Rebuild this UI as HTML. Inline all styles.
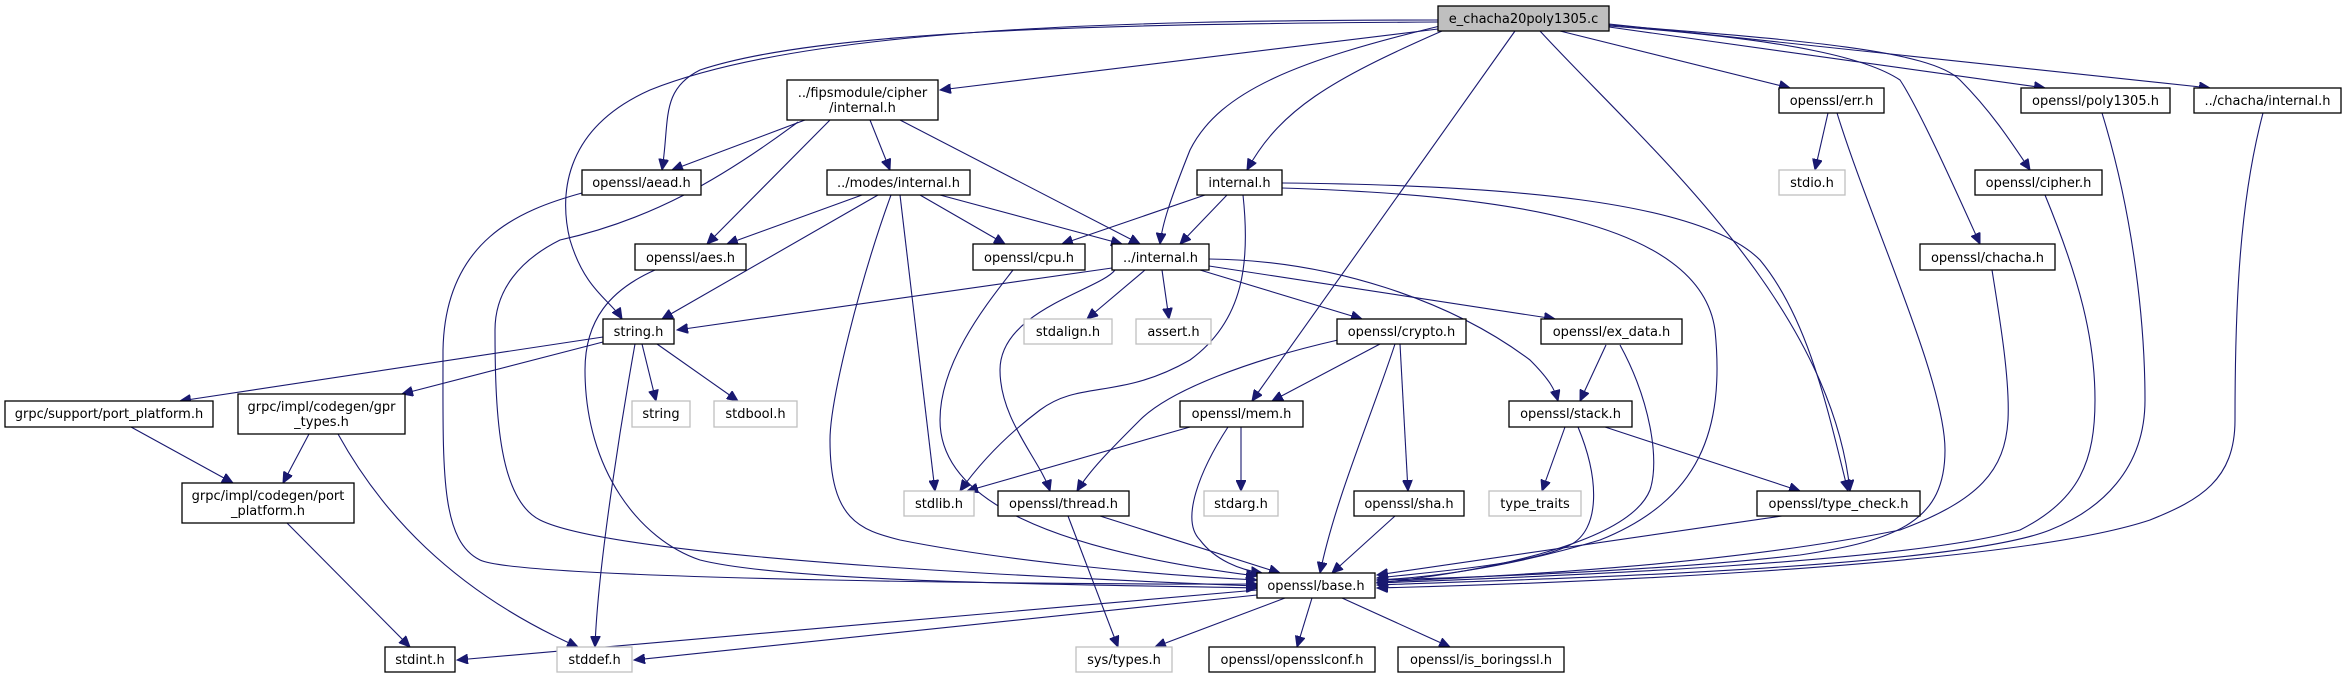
<!DOCTYPE html>
<html><head><meta charset="utf-8"><style>
html,body{margin:0;padding:0;background:#fff;}
svg{display:block;}
text{font-family:"DejaVu Sans","Liberation Sans",sans-serif;font-size:13px;fill:#000;}
.n{fill:#fff;stroke:#000;stroke-width:1.3;}
.g{fill:#fff;stroke:#bfbfbf;stroke-width:1.3;}
.e{fill:none;stroke:#191970;stroke-width:1.1;}
</style></head><body>
<svg width="2347" height="679" viewBox="0 0 2347 679" xmlns="http://www.w3.org/2000/svg">
<defs><marker id="a" markerUnits="userSpaceOnUse" markerWidth="12" markerHeight="10" refX="11" refY="5" orient="auto"><path d="M0,0 L11,5 L0,10 z" fill="#191970" stroke="#191970"/></marker></defs>
<g class="e" marker-end="url(#a)">
<path d="M1438,22 C1100,24 820,30 700,70 C660,90 670,120 662,170"/>
<path d="M1438,20 C1100,20 800,30 650,90 C560,130 560,200 570,240 C585,290 610,300 622,319"/>
<path d="M1438,29 L940,90"/>
<path d="M1440,26 C1300,60 1220,90 1190,150 C1170,200 1162,225 1160,244"/>
<path d="M1442,31 C1330,80 1280,110 1247,170"/>
<path d="M1515,31 L1252,401"/>
<path d="M1540,31 C1640,140 1830,300 1850,491"/>
<path d="M1560,31 L1790,88"/>
<path d="M1609,27 L2045,88"/>
<path d="M1609,24 L2210,88"/>
<path d="M1609,25 C1800,40 1930,50 1960,80 C1990,110 2010,140 2030,170"/>
<path d="M1609,26 C1800,40 1870,60 1900,80 C1920,110 1960,200 1980,244"/>
<path d="M805,120 L672,170"/>
<path d="M830,120 L707,244"/>
<path d="M798,122 C720,180 650,220 560,240 C520,260 495,290 495,330 C495,420 500,500 540,520 C620,560 1100,580 1257,586"/>
<path d="M870,120 L890,170"/>
<path d="M900,120 L1140,244"/>
<path d="M582,193 C520,210 445,240 443,350 C443,470 440,540 480,560 C520,580 1100,585 1257,584"/>
<path d="M655,270 C610,290 585,320 585,370 C585,470 640,540 700,560 C800,585 1150,585 1257,588"/>
<path d="M862,195 L727,244"/>
<path d="M878,195 L662,319"/>
<path d="M900,195 L935,491"/>
<path d="M891,195 C860,280 830,400 830,440 C830,520 860,530 900,540 C1000,560 1150,575 1257,580"/>
<path d="M920,195 L1005,244"/>
<path d="M940,195 L1122,244"/>
<path d="M1205,195 L1062,244"/>
<path d="M1227,195 L1180,244"/>
<path d="M1243,195 C1250,260 1245,320 1190,360 C1120,400 1080,380 1040,410 C1000,440 975,470 960,491"/>
<path d="M1282,188 C1500,195 1700,220 1715,330 C1725,430 1700,500 1600,540 C1500,570 1420,578 1377,580"/>
<path d="M1282,183 C1500,185 1700,200 1760,260 C1810,320 1830,420 1848,491"/>
<path d="M1013,270 C990,300 940,360 940,420 C940,500 1050,550 1257,576"/>
<path d="M1112,268 L677,330"/>
<path d="M1115,270 C1100,290 1000,310 1000,370 C1000,420 1040,460 1050,491"/>
<path d="M1145,270 L1087,319"/>
<path d="M1162,270 L1169,319"/>
<path d="M1200,270 L1362,319"/>
<path d="M1209,266 L1555,319"/>
<path d="M1209,259 C1330,260 1450,300 1530,360 C1550,380 1555,390 1558,401"/>
<path d="M603,337 L180,401"/>
<path d="M603,342 L402,394"/>
<path d="M635,344 C625,400 598,560 595,647"/>
<path d="M642,344 L656,401"/>
<path d="M657,344 L738,401"/>
<path d="M131,427 L233,483"/>
<path d="M309,434 L283,483"/>
<path d="M338,434 C380,510 450,590 578,647"/>
<path d="M287,523 L410,647"/>
<path d="M1380,344 L1272,401"/>
<path d="M1338,340 C1250,360 1170,390 1140,420 C1110,450 1090,470 1077,491"/>
<path d="M1395,344 C1370,420 1335,500 1320,573"/>
<path d="M1400,344 L1408,491"/>
<path d="M1190,427 L967,491"/>
<path d="M1241,427 L1241,491"/>
<path d="M1228,427 C1200,470 1180,520 1200,540 C1215,560 1240,570 1262,573"/>
<path d="M1068,516 L1118,647"/>
<path d="M1100,516 L1280,573"/>
<path d="M1395,516 L1332,573"/>
<path d="M1606,345 L1580,401"/>
<path d="M1620,345 C1650,400 1660,460 1650,490 C1630,540 1500,570 1377,583"/>
<path d="M1565,427 L1542,491"/>
<path d="M1578,427 C1600,480 1600,530 1570,545 C1530,565 1430,572 1377,578"/>
<path d="M1605,427 L1800,491"/>
<path d="M1782,516 L1377,575"/>
<path d="M1828,113 L1815,170"/>
<path d="M1837,113 C1870,220 1945,380 1945,450 C1945,520 1900,540 1800,555 C1650,572 1450,578 1377,580"/>
<path d="M2102,113 C2135,220 2145,330 2145,400 C2145,470 2100,510 2050,530 C1950,570 1500,580 1377,585"/>
<path d="M2263,113 C2240,200 2235,300 2235,420 C2235,480 2200,500 2150,520 C2000,570 1500,585 1377,588"/>
<path d="M2045,195 C2080,280 2095,340 2095,400 C2095,460 2080,500 2020,530 C1900,565 1500,578 1377,583"/>
<path d="M1992,270 C2000,320 2010,380 2008,420 C2005,470 1980,500 1900,530 C1700,570 1450,578 1377,582"/>
<path d="M1257,590 L457,660"/>
<path d="M1257,595 L634,660"/>
<path d="M1285,598 L1155,647"/>
<path d="M1312,598 L1297,647"/>
<path d="M1342,598 L1450,647"/>
</g>
<rect x="1438" y="6" width="171" height="25" fill="#bfbfbf" stroke="#000" stroke-width="1.3"/><text x="1523.5" y="23" text-anchor="middle">e_chacha20poly1305.c</text>
<rect class="n" x="787" y="80" width="151" height="40"/><text x="862.5" y="97" text-anchor="middle">../fipsmodule/cipher</text><text x="862.5" y="112" text-anchor="middle">/internal.h</text>
<rect class="n" x="582" y="170" width="119" height="25"/><text x="641.5" y="187" text-anchor="middle">openssl/aead.h</text>
<rect class="n" x="827" y="170" width="143" height="25"/><text x="898.5" y="187" text-anchor="middle">../modes/internal.h</text>
<rect class="n" x="1197" y="170" width="85" height="25"/><text x="1239.5" y="187" text-anchor="middle">internal.h</text>
<rect class="n" x="1779" y="88" width="105" height="25"/><text x="1831.5" y="105" text-anchor="middle">openssl/err.h</text>
<rect class="n" x="2021" y="88" width="149" height="25"/><text x="2095.5" y="105" text-anchor="middle">openssl/poly1305.h</text>
<rect class="n" x="2194" y="88" width="147" height="25"/><text x="2267.5" y="105" text-anchor="middle">../chacha/internal.h</text>
<rect class="g" x="1779" y="170" width="66" height="25"/><text x="1812" y="187" text-anchor="middle">stdio.h</text>
<rect class="n" x="1975" y="170" width="127" height="25"/><text x="2038.5" y="187" text-anchor="middle">openssl/cipher.h</text>
<rect class="n" x="1920" y="244" width="135" height="26"/><text x="1987.5" y="262" text-anchor="middle">openssl/chacha.h</text>
<rect class="n" x="635" y="244" width="111" height="26"/><text x="690.5" y="262" text-anchor="middle">openssl/aes.h</text>
<rect class="n" x="973" y="244" width="112" height="26"/><text x="1029" y="262" text-anchor="middle">openssl/cpu.h</text>
<rect class="n" x="1112" y="244" width="97" height="26"/><text x="1160.5" y="262" text-anchor="middle">../internal.h</text>
<rect class="n" x="603" y="319" width="71" height="25"/><text x="638.5" y="336" text-anchor="middle">string.h</text>
<rect class="g" x="1024" y="319" width="88" height="25"/><text x="1068" y="336" text-anchor="middle">stdalign.h</text>
<rect class="g" x="1136" y="319" width="75" height="25"/><text x="1173.5" y="336" text-anchor="middle">assert.h</text>
<rect class="n" x="1337" y="319" width="129" height="25"/><text x="1401.5" y="336" text-anchor="middle">openssl/crypto.h</text>
<rect class="n" x="1541" y="319" width="141" height="25"/><text x="1611.5" y="336" text-anchor="middle">openssl/ex_data.h</text>
<rect class="n" x="5" y="401" width="208" height="26"/><text x="109" y="418" text-anchor="middle">grpc/support/port_platform.h</text>
<rect class="n" x="238" y="394" width="167" height="40"/><text x="321.5" y="411" text-anchor="middle">grpc/impl/codegen/gpr</text><text x="321.5" y="426" text-anchor="middle">_types.h</text>
<rect class="g" x="632" y="401" width="58" height="26"/><text x="661" y="418" text-anchor="middle">string</text>
<rect class="g" x="714" y="401" width="83" height="26"/><text x="755.5" y="418" text-anchor="middle">stdbool.h</text>
<rect class="n" x="1180" y="401" width="123" height="26"/><text x="1241.5" y="418" text-anchor="middle">openssl/mem.h</text>
<rect class="n" x="1509" y="401" width="123" height="26"/><text x="1570.5" y="418" text-anchor="middle">openssl/stack.h</text>
<rect class="n" x="182" y="483" width="172" height="40"/><text x="268" y="500" text-anchor="middle">grpc/impl/codegen/port</text><text x="268" y="515" text-anchor="middle">_platform.h</text>
<rect class="g" x="904" y="491" width="70" height="25"/><text x="939" y="508" text-anchor="middle">stdlib.h</text>
<rect class="n" x="998" y="491" width="131" height="25"/><text x="1063.5" y="508" text-anchor="middle">openssl/thread.h</text>
<rect class="g" x="1204" y="491" width="74" height="25"/><text x="1241" y="508" text-anchor="middle">stdarg.h</text>
<rect class="n" x="1354" y="491" width="110" height="25"/><text x="1409" y="508" text-anchor="middle">openssl/sha.h</text>
<rect class="g" x="1489" y="491" width="92" height="25"/><text x="1535" y="508" text-anchor="middle">type_traits</text>
<rect class="n" x="1757" y="491" width="163" height="25"/><text x="1838.5" y="508" text-anchor="middle">openssl/type_check.h</text>
<rect class="n" x="1257" y="573" width="118" height="25"/><text x="1316" y="590" text-anchor="middle">openssl/base.h</text>
<rect class="n" x="385" y="647" width="70" height="25"/><text x="420" y="664" text-anchor="middle">stdint.h</text>
<rect class="g" x="557" y="647" width="75" height="25"/><text x="594.5" y="664" text-anchor="middle">stddef.h</text>
<rect class="g" x="1076" y="647" width="96" height="25"/><text x="1124" y="664" text-anchor="middle">sys/types.h</text>
<rect class="n" x="1209" y="647" width="166" height="25"/><text x="1292" y="664" text-anchor="middle">openssl/opensslconf.h</text>
<rect class="n" x="1398" y="647" width="166" height="25"/><text x="1481" y="664" text-anchor="middle">openssl/is_boringssl.h</text>
</svg>
</body></html>
